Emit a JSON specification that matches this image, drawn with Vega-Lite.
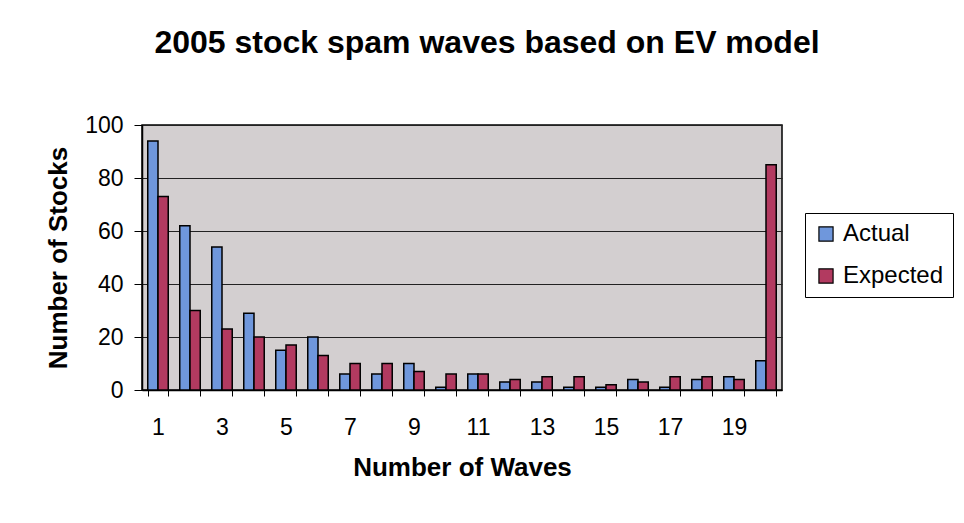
{
  "$schema": "https://vega.github.io/schema/vega-lite/v6.json",
  "width": 640,
  "height": 265,
  "autosize": "none",
  "padding": {"left": 142, "top": 125, "right": 182, "bottom": 133},
  "background": "white",
  "title": {
    "text": "2005 stock spam waves based on EV model",
    "font": "Liberation Sans",
    "fontSize": 32,
    "fontWeight": "bold",
    "color": "black",
    "anchor": "middle",
    "frame": "group",
    "offset": 54,
    "dx": 25
  },
  "data": {
    "values": [
      {"waves": 1, "series": "Actual", "stocks": 94},
      {"waves": 1, "series": "Expected", "stocks": 73},
      {"waves": 2, "series": "Actual", "stocks": 62},
      {"waves": 2, "series": "Expected", "stocks": 30},
      {"waves": 3, "series": "Actual", "stocks": 54},
      {"waves": 3, "series": "Expected", "stocks": 23},
      {"waves": 4, "series": "Actual", "stocks": 29},
      {"waves": 4, "series": "Expected", "stocks": 20},
      {"waves": 5, "series": "Actual", "stocks": 15},
      {"waves": 5, "series": "Expected", "stocks": 17},
      {"waves": 6, "series": "Actual", "stocks": 20},
      {"waves": 6, "series": "Expected", "stocks": 13},
      {"waves": 7, "series": "Actual", "stocks": 6},
      {"waves": 7, "series": "Expected", "stocks": 10},
      {"waves": 8, "series": "Actual", "stocks": 6},
      {"waves": 8, "series": "Expected", "stocks": 10},
      {"waves": 9, "series": "Actual", "stocks": 10},
      {"waves": 9, "series": "Expected", "stocks": 7},
      {"waves": 10, "series": "Actual", "stocks": 1},
      {"waves": 10, "series": "Expected", "stocks": 6},
      {"waves": 11, "series": "Actual", "stocks": 6},
      {"waves": 11, "series": "Expected", "stocks": 6},
      {"waves": 12, "series": "Actual", "stocks": 3},
      {"waves": 12, "series": "Expected", "stocks": 4},
      {"waves": 13, "series": "Actual", "stocks": 3},
      {"waves": 13, "series": "Expected", "stocks": 5},
      {"waves": 14, "series": "Actual", "stocks": 1},
      {"waves": 14, "series": "Expected", "stocks": 5},
      {"waves": 15, "series": "Actual", "stocks": 1},
      {"waves": 15, "series": "Expected", "stocks": 2},
      {"waves": 16, "series": "Actual", "stocks": 4},
      {"waves": 16, "series": "Expected", "stocks": 3},
      {"waves": 17, "series": "Actual", "stocks": 1},
      {"waves": 17, "series": "Expected", "stocks": 5},
      {"waves": 18, "series": "Actual", "stocks": 4},
      {"waves": 18, "series": "Expected", "stocks": 5},
      {"waves": 19, "series": "Actual", "stocks": 5},
      {"waves": 19, "series": "Expected", "stocks": 4},
      {"waves": 20, "series": "Actual", "stocks": 11},
      {"waves": 20, "series": "Expected", "stocks": 85}
    ]
  },
  "mark": {"type": "bar", "stroke": "black", "strokeWidth": 1.5},
  "encoding": {
    "x": {
      "field": "waves",
      "type": "ordinal",
      "scale": {"paddingInner": 0.36, "paddingOuter": 0.18},
      "axis": {
        "title": "Number of Waves",
        "titleFont": "Liberation Sans",
        "titleFontSize": 26,
        "titleFontWeight": "bold",
        "titleColor": "black",
        "titlePadding": 15,
        "labelFont": "Liberation Sans",
        "labelFontSize": 23,
        "labelColor": "black",
        "labelAngle": 0,
        "labelPadding": 20,
        "labelExpr": "datum.value % 2 == 1 ? datum.label : ''",
        "tickBand": "extent",
        "tickColor": "black",
        "tickSize": 6,
        "domainColor": "black",
        "domainWidth": 1.5,
        "grid": false
      }
    },
    "xOffset": {"field": "series", "type": "nominal", "sort": ["Actual", "Expected"]},
    "y": {
      "field": "stocks",
      "type": "quantitative",
      "scale": {"domain": [0, 100], "nice": false},
      "axis": {
        "title": "Number of Stocks",
        "titleFont": "Liberation Sans",
        "titleFontSize": 26,
        "titleFontWeight": "bold",
        "titleColor": "black",
        "titlePadding": 13,
        "values": [0, 20, 40, 60, 80, 100],
        "labelFont": "Liberation Sans",
        "labelFontSize": 23,
        "labelColor": "black",
        "labelPadding": 11,
        "tickColor": "black",
        "tickSize": 8,
        "domainColor": "black",
        "domainWidth": 1.5,
        "grid": true,
        "gridColor": "#222222",
        "gridWidth": 1
      }
    },
    "color": {
      "field": "series",
      "type": "nominal",
      "scale": {"domain": ["Actual", "Expected"], "range": ["#6f97dc", "#b23a60"]},
      "legend": {
        "title": null,
        "orient": "none",
        "legendX": 663,
        "legendY": 88,
        "symbolType": "square",
        "symbolSize": 200,
        "symbolStrokeColor": "black",
        "symbolStrokeWidth": 1.2,
        "labelFont": "Liberation Sans",
        "labelFontSize": 24,
        "labelColor": "black",
        "labelOffset": 5,
        "rowPadding": 18,
        "padding": 9,
        "strokeColor": "black",
        "fillColor": "white"
      }
    }
  },
  "config": {
    "view": {"fill": "#d3cfd0", "stroke": "black", "strokeWidth": 1.5}
  }
}
